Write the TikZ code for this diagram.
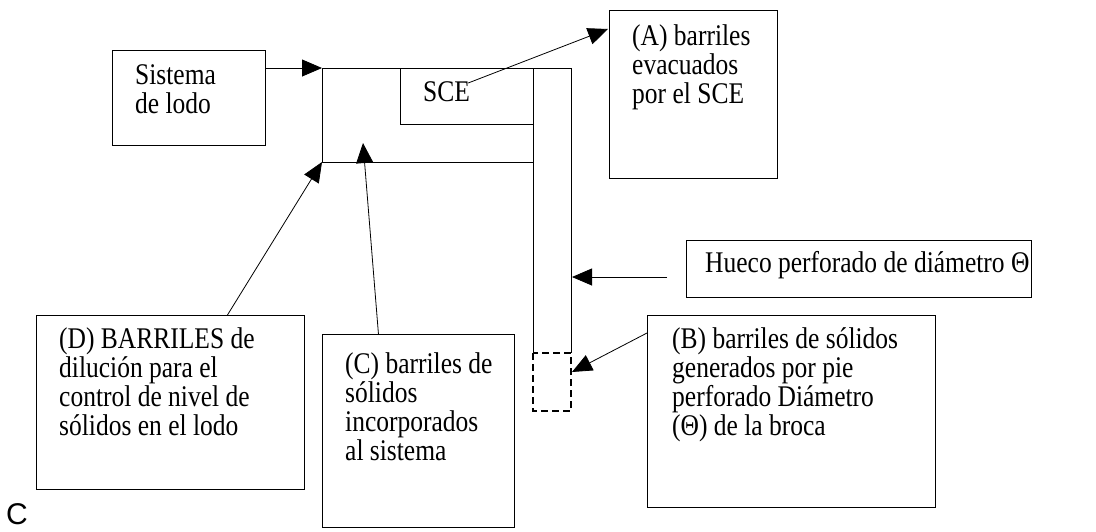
\documentclass[tikz,border=0pt]{standalone}
\usepackage{fontspec}
\setmainfont{Liberation Serif}
\setsansfont{Liberation Sans}
\newfontfamily\estrecha[FakeStretch=0.85]{Liberation Serif}
\usetikzlibrary{arrows.meta,positioning}

\tikzset{
  caja/.style={draw, line width=0.9pt, inner sep=0pt, anchor=north west},
  texto/.style={anchor=north west, inner sep=0pt, align=left,
    font=\estrecha\fontsize{30}{29}\selectfont},
  flecha/.style={draw, line width=0.8pt, -{Triangle[length=20pt,width=17pt]}},
  pozo/.style={line width=0.9pt},
}

\begin{document}
\begin{tikzpicture}[x=1pt,y=-1pt]
        \useasboundingbox (0,0) rectangle (1096,531);
        % cajas
        \node[caja, minimum width=153pt, minimum height=95pt] (sistema) at (112,50) {};
        \node[caja, minimum width=168pt, minimum height=168pt] (cajaA) at (609,10) {};
        \node[caja, minimum width=345pt, minimum height=57pt] (hueco) at (686,240) {};
        \node[caja, minimum width=268pt, minimum height=174pt] (cajaD) at (36,315) {};
        \node[caja, minimum width=192pt, minimum height=193pt] (cajaC) at (322,334) {};
        \node[caja, minimum width=288pt, minimum height=192pt] (cajaB) at (647,315) {};
        \node[caja, minimum width=133pt, minimum height=56pt] (sce) at (400,68) {};
        % textos
        \node[texto] (tsce) at (423,81) {SCE};
        \node[texto] (tsistema) at (135,64) {Sistema\\de lodo};
        \node[texto] (tA) at (632,24) {(A) barriles\\evacuados\\por el SCE};
        \node[texto] (thueco) at (705,251) {Hueco perforado de diámetro Θ};
        \node[texto] (tD) at (59,327) {(D) BARRILES de\\dilución para el\\control de nivel de\\sólidos en el lodo};
        \node[texto] (tC) at (345,352) {(C) barriles de\\sólidos\\incorporados\\al sistema};
        \node[texto] (tB) at (672,327) {(B) barriles de sólidos\\generados por pie\\perforado Diámetro\\(Θ) de la broca};
        \node[anchor=base west, inner sep=0pt, font=\sffamily\fontsize{30}{34}\selectfont] (letraC) at (6,524) {C};
        % pozo
        \coordinate (tl) at (322,68);
        \coordinate (bl) at (322,162);
        \coordinate (pC) at (363,143);
        \coordinate (pB) at (572,372);
        \coordinate (pH) at (572,277);
        \coordinate (pA) at (608,29);
        \draw[pozo] (bl) -- (tl) -- (571,68) -- (571,353);
        \draw[pozo] (bl) -- (533,162);
        \draw[pozo] (533,124) -- (533,353);
        \draw[line width=2pt, dash pattern=on 7pt off 4pt] (533,353) rectangle (571,411);
        % flechas
        \draw[flecha] (sistema.east |- tl) -- (tl);
        \draw[flecha] ([xshift=-2pt,yshift=-2pt]tsce.north east) -- (pA);
        \draw[flecha] ([xshift=-19pt]hueco.west |- pH) -- (pH);
        \draw[flecha] ([xshift=57pt]cajaD.north) -- (bl);
        \draw[flecha] ([xshift=-40pt]cajaC.north) -- (pC);
        \draw[flecha] ([yshift=-18pt]cajaB.north west) -- (pB);
    \end{tikzpicture}
\end{document}
